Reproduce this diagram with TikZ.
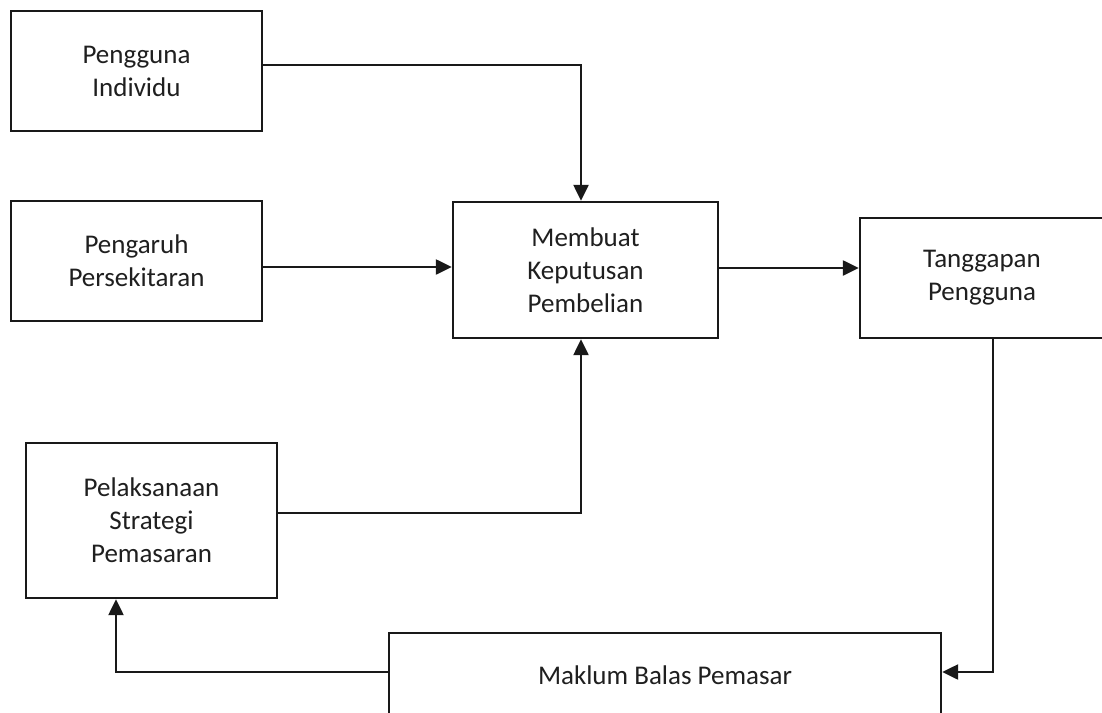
\documentclass[tikz,border=0pt]{standalone}
\usepackage{fontspec}
\setmainfont{Carlito}
\usetikzlibrary{arrows.meta,calc}
\begin{document}
\begin{tikzpicture}[x=1pt,y=-1pt,
  box/.style={draw=black!90, line width=2.4pt, rectangle, align=center, inner sep=0pt,
    text=black!88, font=\fontsize{27}{33}\selectfont},
  conn/.style={draw=black!90, line width=2.4pt},
  arr/.style={conn, -{Triangle[length=16pt,width=15pt]}}]
\useasboundingbox (0,0) rectangle (1102,712);
\clip (0,0) rectangle (1102,712);
\fill[white] (0,0) rectangle (1102,712);
\node[box, minimum width=251pt, minimum height=120pt] (b1) at (136.5,71) {Pengguna\\Individu};
\node[box, minimum width=251pt, minimum height=120pt] (b2) at (136.5,261) {Pengaruh\\Persekitaran};
\node[box, minimum width=265pt, minimum height=136pt] (b3) at (585.5,270) {Membuat\\Keputusan\\Pembelian};
\node[box, minimum width=244pt, minimum height=120pt] (b4) at (982,278) {Tanggapan\\Pengguna};
\node[box, minimum width=552pt, minimum height=84pt] (b5) at (665,675) {Maklum Balas Pemasar};
\node[box, minimum width=251pt, minimum height=155pt] (b6) at (151.5,520.5) {Pelaksanaan\\Strategi\\Pemasaran};
\coordinate (c1) at (581,65);
\coordinate (c2) at (581,513);
\coordinate (c3) at (993,672);
\coordinate (c4) at (116,672);
\draw[arr] ([yshift=6pt]b1.east) -- (c1) -- (c1 |- b3.north);
\draw[arr] ([yshift=-6pt]b2.east) -- ([yshift=-6pt]b2.east -| b3.west);
\draw[arr] (b3.east |- 0,268) -- (b4.west |- 0,268);
\draw[arr] (b4.south -| c3) -- (c3) -- ([yshift=3pt]b5.east);
\draw[arr] ([yshift=7.5pt]b6.east) -- (c2) -- (c2 |- b3.south);
\draw[arr] ([yshift=3pt]b5.west) -- (c4) -- (c4 |- b6.south);
\end{tikzpicture}
\end{document}
